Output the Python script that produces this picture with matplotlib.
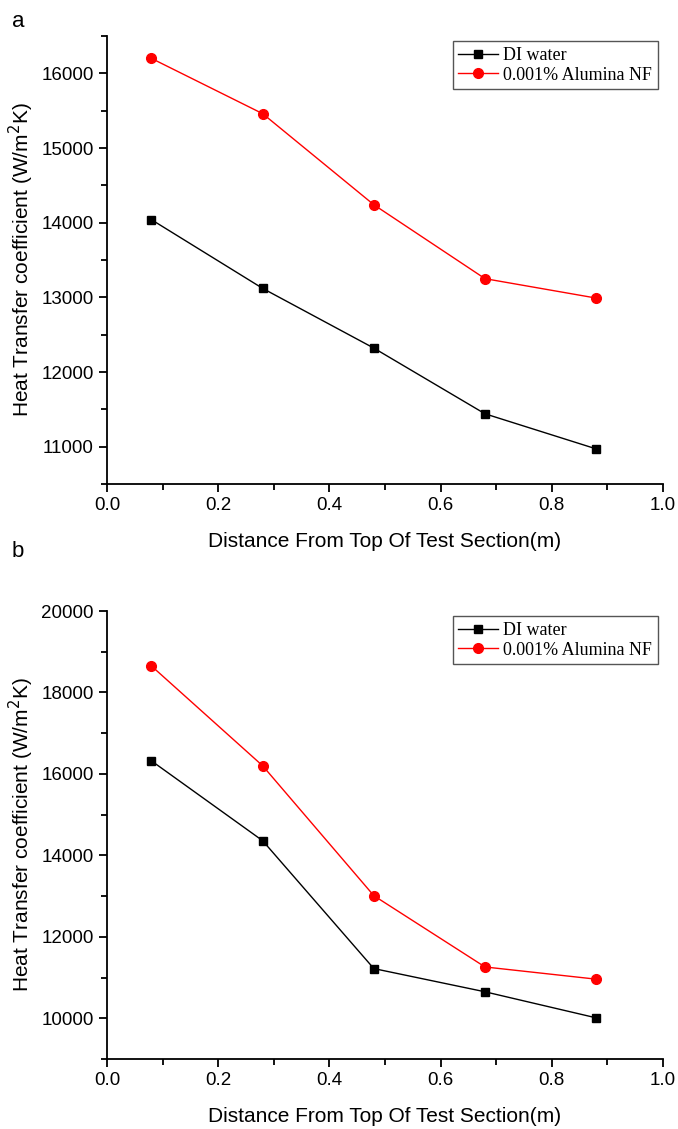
import matplotlib.pyplot as plt
from matplotlib.ticker import MultipleLocator

# distance from top of test section (m)
distance = [0.08, 0.28, 0.48, 0.68, 0.88]

# panel a
di_water_a = [14040, 13120, 12320, 11440, 10970]
alumina_a = [16200, 15460, 14240, 13250, 12990]

# panel b
di_water_b = [16320, 14360, 11220, 10650, 10010]
alumina_b = [18650, 16200, 13010, 11260, 10960]

plt.rcParams['font.family'] = ['Liberation Sans', 'DejaVu Sans']

fig = plt.figure(figsize=(6.78, 11.29), dpi=100)
ax_a = fig.add_axes([0.1578, 0.5713, 0.820, 0.3968])
ax_b = fig.add_axes([0.1578, 0.0620, 0.820, 0.3968])


def draw_panel(ax, di, al, ylim, major, minor):
    ax.plot(distance, di, color="black", lw=1, marker="s", ms=6,
            label="DI water")
    ax.plot(distance, al, color="red", lw=1, marker="o", ms=7,
            label="0.001% Alumina NF")
    ax.set_xlim(0, 1.0)
    ax.set_ylim(*ylim)
    ax.xaxis.set_major_locator(MultipleLocator(0.2))
    ax.xaxis.set_minor_locator(MultipleLocator(0.1))
    ax.yaxis.set_major_locator(MultipleLocator(major))
    ax.yaxis.set_minor_locator(MultipleLocator(minor))
    ax.xaxis.set_major_formatter(plt.FormatStrFormatter("%.1f"))
    for s in ("top", "right"):
        ax.spines[s].set_visible(False)
    for s in ("left", "bottom"):
        ax.spines[s].set_linewidth(1.3)
    ax.tick_params(which="major", direction="out", length=6, width=1.3,
                   labelsize=13.5)
    ax.tick_params(which="minor", direction="out", length=4, width=1.3)
    ax.set_xlabel("Distance From Top Of Test Section(m)", fontsize=15,
                  labelpad=13)
    ax.set_ylabel("Heat Transfer coefficient (W/m$^2$K)", fontsize=15,
                  labelpad=4)
    leg = ax.legend(loc="upper right", prop={"family": "Liberation Serif",
                                             "size": 13},
                    fancybox=False, edgecolor="#555555", framealpha=1,
                    handlelength=2.2, handletextpad=0.3, borderpad=0.3,
                    labelspacing=0.15, borderaxespad=0.3)
    leg.get_frame().set_linewidth(1.0)
    return leg


draw_panel(ax_a, di_water_a, alumina_a, (10500, 16500), 1000, 500)
draw_panel(ax_b, di_water_b, alumina_b, (9000, 20000), 2000, 1000)

fig.text(12 / 678, 1 - 27 / 1129, "a", fontsize=16)
fig.text(12 / 678, 1 - 557 / 1129, "b", fontsize=16)

fig.savefig("out.png", dpi=100)
